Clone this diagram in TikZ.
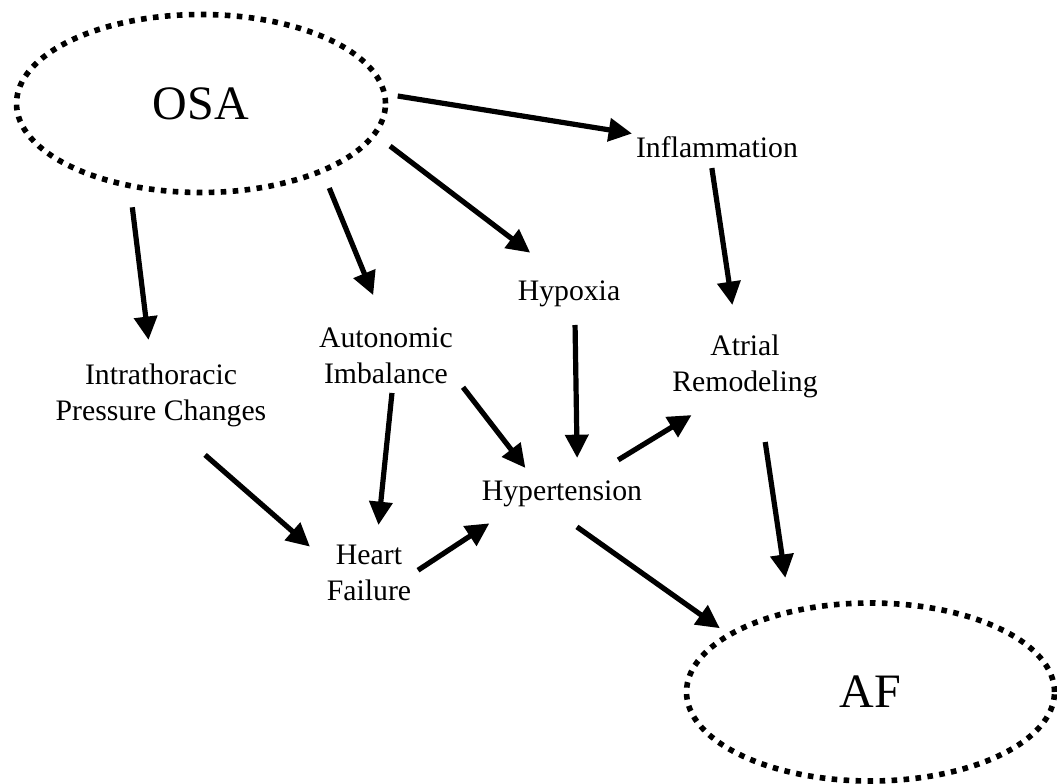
\documentclass[tikz,border=0pt]{standalone}
\usepackage{fontspec}
\setmainfont{Liberation Serif}
\usetikzlibrary{shapes.geometric,arrows.meta}
\begin{document}
\begin{tikzpicture}[x=0.75pt,y=-0.75pt,
  lbl/.style={font=\fontsize{22.3}{27}\selectfont, align=center, inner sep=0pt, outer sep=0pt, text=black},
  oval/.style={ellipse, draw, line width=4.2pt, dash pattern=on 4.2pt off 4.8pt, inner sep=0pt, outer sep=0pt, font=\fontsize{36}{40}\selectfont},
  arr/.style={line width=3.9pt, -{Triangle[length=17.5pt,width=17pt]}}
]
\useasboundingbox (0,0) rectangle (1057,784);
\fill[white] (0,0) rectangle (1057,784);

\node[oval, minimum width=276.75pt, minimum height=133.5pt] (osa) at (201,103.5) {OSA};
\node[oval, minimum width=276pt, minimum height=133.5pt] (af) at (870.5,692) {AF};
\node[lbl, minimum width=127.5pt, minimum height=22.5pt] (inflam) at (717,147) {Inflammation};
\node[lbl, minimum width=82.5pt, minimum height=24pt] (hypoxia) at (569,294) {Hypoxia};
\node[lbl, minimum width=108pt, minimum height=46.5pt] (auto) at (386,356) {Autonomic\\Imbalance};
\node[lbl, minimum width=165pt, minimum height=52.5pt] (intra) at (161,395) {Intrathoracic\\Pressure Changes};
\node[lbl, minimum width=115.5pt, minimum height=52.5pt] (atrial) at (745,366) {Atrial\\Remodeling};
\node[lbl, minimum width=127.5pt, minimum height=24pt] (hyper) at (562,494) {Hypertension};
\node[lbl, minimum width=69pt, minimum height=46.5pt] (hf) at (369,573) {Heart\\Failure};

\draw[arr, shorten <=10.1pt] (osa.3.73) -- (inflam.171.96);
\draw[arr, shorten <=14.9pt, shorten >=31.35pt] (osa.-10.9) -- (hypoxia.109);
\draw[arr, shorten <=14.1pt, shorten >=24.2pt] (osa.-29.06) -- (auto.91.85);
\draw[arr, shorten <=16.4pt, shorten >=15.15pt] (osa.229.4) -- (intra.106.4);
\draw[arr, shorten <=4.6pt, shorten >=19.7pt] (inflam.248.5) -- (atrial.104.7);
\draw[arr, shorten <=11.25pt, shorten >=15pt] (hypoxia.-70.1) -- (hyper.46.3);
\draw[arr, shorten <=4.5pt, shorten >=12.8pt] (auto.-78) -- (hf.76.9);
\draw[arr, shorten <=6.15pt, shorten >=9.5pt] (auto.-19.5) -- (hyper.151.4);
\draw[arr, shorten <=28.4pt, shorten >=13pt] (intra.-66.1) -- (hf.162.4);
\draw[arr, shorten <=2.7pt, shorten >=18.2pt] (hf.1.37) -- (hyper.197.9);
\draw[arr, shorten <=26pt, shorten >=20.2pt] (hyper.31.2) -- (atrial.229.4);
\draw[arr, shorten <=31.1pt, shorten >=25.8pt] (atrial.-68.3) -- (af.135);
\draw[arr, shorten <=21.9pt, shorten >=8.7pt] (hyper.241.5) -- (af.158.3);
\end{tikzpicture}
\end{document}
